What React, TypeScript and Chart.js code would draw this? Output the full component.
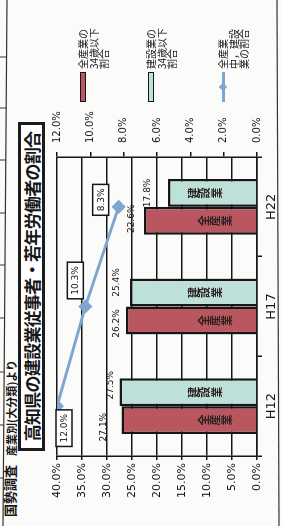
import React, { useEffect, useRef } from 'react';
import { Chart, registerables } from 'chart.js';

Chart.register(...registerables);

// ---- data ----
const categories = ['H12', 'H17', 'H22'];
const allIndustryYoungShare = [27.1, 26.2, 22.6]; // 全産業の34歳以下割合 (%)
const constructionYoungShare = [27.5, 25.4, 17.8]; // 建設業の34歳以下割合 (%)
const constructionShareOfAll = [12.0, 10.3, 8.3]; // 全産業中，建設業の割合 (%)
const barInnerTexts = ['全産業', '建設業'];
const leftAxisRange = [0, 40, 5];
const rightAxisRange = [0, 12, 2];

// ---- styles ----
const RED = '#b9565f';
const TEAL = '#bde0d8';
const BLUE = '#7ea6cf';
const INK = '#161616';
const W = 526;
const H = 283;
// label nudges (px) relative to the bar top / point
const barLabelNudge = [
  [[-7, -18], [-3, -9], [2, -12]],
  [[7, -9], [10, -13], [0, -20]],
];
const lineLabelNudge = [[-22, 7], [26, -10], [7, -18]];

const fmt = (v: number) => v.toFixed(1) + '%';

const labelsPlugin = {
  id: 'customLabels',
  afterDatasetsDraw(chart: any) {
    const ctx = chart.ctx;
    const area = chart.chartArea;
    ctx.save();
    // bar value labels and inner vertical texts
    [1, 2].forEach((di, k) => {
      const meta = chart.getDatasetMeta(di);
      const vals = chart.data.datasets[di].data as number[];
      meta.data.forEach((el: any, i: number) => {
        const [dx, dy] = barLabelNudge[k][i];
        ctx.font = '9px "DejaVu Sans"';
        ctx.fillStyle = INK;
        ctx.textAlign = 'center';
        ctx.textBaseline = 'middle';
        ctx.fillText(fmt(vals[i]), el.x + dx, el.y + dy);
        // vertical text inside bar
        ctx.font = 'bold 11px "Noto Sans CJK JP"';
        ctx.fillStyle = '#2a2222';
        const txt = barInnerTexts[k];
        const cy = area.bottom - (k === 0 ? 42 : 52);
        for (let c = 0; c < txt.length; c++) {
          ctx.fillText(txt[c], el.x, cy + (c - 1) * 11.5);
        }
      });
    });
    // boxed line labels
    const lmeta = chart.getDatasetMeta(0);
    const lvals = chart.data.datasets[0].data as number[];
    lmeta.data.forEach((el: any, i: number) => {
      const [dx, dy] = lineLabelNudge[i];
      const t = fmt(lvals[i]);
      ctx.font = '9px "DejaVu Sans"';
      const w = ctx.measureText(t).width + 8;
      const h = 16;
      const cx = el.x + dx;
      const cy = el.y + dy;
      ctx.fillStyle = '#ffffff';
      ctx.fillRect(cx - w / 2, cy - h / 2, w, h);
      ctx.strokeStyle = INK;
      ctx.lineWidth = 1.5;
      ctx.strokeRect(cx - w / 2, cy - h / 2, w, h);
      ctx.fillStyle = INK;
      ctx.textAlign = 'center';
      ctx.textBaseline = 'middle';
      ctx.fillText(t, cx, cy + 0.5);
    });
    ctx.restore();
  },
};

export default function App() {
  const ref = useRef<HTMLCanvasElement>(null);

  useEffect(() => {
    const chart = new Chart(ref.current as HTMLCanvasElement, {
      type: 'bar',
      data: {
        labels: categories,
        datasets: [
          {
            type: 'line',
            label: '全産業中，建設業の割合',
            data: constructionShareOfAll,
            yAxisID: 'y1',
            borderColor: BLUE,
            backgroundColor: BLUE,
            borderWidth: 3,
            pointStyle: 'rectRot',
            pointRadius: 5,
            pointBackgroundColor: BLUE,
            pointBorderColor: BLUE,
            order: 0,
          } as any,
          {
            type: 'bar',
            label: '全産業の34歳以下割合',
            data: allIndustryYoungShare,
            yAxisID: 'y',
            backgroundColor: RED,
            borderColor: INK,
            borderWidth: 2.5,
            categoryPercentage: 0.56,
            barPercentage: 1,
            order: 1,
          },
          {
            type: 'bar',
            label: '建設業の34歳以下割合',
            data: constructionYoungShare,
            yAxisID: 'y',
            backgroundColor: TEAL,
            borderColor: INK,
            borderWidth: 2.5,
            categoryPercentage: 0.56,
            barPercentage: 1,
            order: 1,
          },
        ],
      },
      options: {
        responsive: false,
        animation: false,
        devicePixelRatio: 1,
        layout: { padding: { top: 57, left: 0, right: 0, bottom: 0 } },
        plugins: { legend: { display: false }, tooltip: { enabled: false }, title: { display: false } },
        scales: {
          x: {
            offset: true,
            grid: { display: true, drawOnChartArea: false, drawTicks: true, tickLength: 5, color: INK, lineWidth: 1.5, offset: true },
            border: { display: true, color: INK, width: 1.5 },
            ticks: { font: { size: 13, family: 'DejaVu Sans' }, color: INK, padding: 2 },
            afterFit: (s: any) => { s.height = 26; },
          },
          y: {
            position: 'left',
            min: leftAxisRange[0],
            max: leftAxisRange[1],
            ticks: { stepSize: leftAxisRange[2], callback: (v: any) => fmt(Number(v)), font: { size: 11, family: 'DejaVu Sans' }, color: INK, padding: 3 },
            grid: { color: INK, lineWidth: 1.5, tickLength: 4 },
            border: { display: true, color: INK, width: 1.5 },
            afterFit: (s: any) => { s.width = 70; },
          },
          y1: {
            position: 'right',
            min: rightAxisRange[0],
            max: rightAxisRange[1],
            ticks: { stepSize: rightAxisRange[2], callback: (v: any) => fmt(Number(v)), font: { size: 10, family: 'DejaVu Sans' }, color: INK, padding: 9 },
            grid: { drawOnChartArea: false, color: INK, lineWidth: 1.5, tickLength: 5 },
            border: { display: true, color: INK, width: 1.5 },
            afterFit: (s: any) => { s.width = 157; },
          },
        },
      } as any,
      plugins: [labelsPlugin],
    });
    return () => chart.destroy();
  }, []);

  const frameTicks = [48, 101, 154, 208, 261, 313, 366, 418, 469];
  const legendText: React.CSSProperties = {
    position: 'absolute',
    left: 457,
    fontFamily: '"Noto Sans CJK JP"',
    fontSize: 10,
    lineHeight: '10.5px',
    color: INK,
    whiteSpace: 'pre',
  };

  return (
    <div style={{ position: 'fixed', left: 0, top: 0, width: 283, height: 526, overflow: 'hidden', background: '#fbfbf9' }}>
      <div
        style={{
          position: 'absolute',
          left: 0,
          top: 0,
          width: W,
          height: H,
          transformOrigin: '0 0',
          transform: 'translate(0px, 526px) rotate(-90deg)',
        }}
      >
        <svg width={W} height={H} style={{ position: 'absolute', left: 0, top: 0 }}>
          <line x1={0} y1={3} x2={W} y2={7} stroke="#333" strokeWidth={1.2} />
          <line x1={0} y1={279} x2={W} y2={277} stroke="#333" strokeWidth={1.2} />
          {frameTicks.map((x) => (
            <line key={x} x1={x} y1={0} x2={x} y2={3 + (x / W) * 4} stroke="#333" strokeWidth={1} />
          ))}
        </svg>
        <div style={{ position: 'absolute', left: 9, top: 2, fontFamily: '"Noto Sans CJK JP"', fontSize: 13, fontWeight: 700, color: INK, whiteSpace: 'nowrap', lineHeight: '16px' }}>
          国勢調査
        </div>
        <div style={{ position: 'absolute', left: 70, top: 4, fontFamily: '"Noto Sans CJK JP"', fontSize: 11, fontWeight: 700, color: INK, whiteSpace: 'nowrap', lineHeight: '14px' }}>
          産業別(大分類)より
        </div>
        <div
          style={{
            position: 'absolute',
            left: 75,
            top: 18,
            width: 329,
            height: 27,
            boxSizing: 'border-box',
            border: '3px solid #1c1c1c',
            background: '#ffffff',
            fontFamily: '"Noto Sans CJK JP"',
            fontWeight: 700,
            fontSize: 17,
            letterSpacing: '-0.7px',
            lineHeight: '21px',
            textAlign: 'center',
            color: INK,
            whiteSpace: 'nowrap',
          }}
        >
          高知県の建設業従事者・若年労働者の割合
        </div>
        <div style={{ position: 'absolute', left: 0, top: 0, width: W, height: H }}>
          <canvas ref={ref} width={W} height={H} style={{ display: 'block' }} />
        </div>
        {/* legend */}
        <div style={{ position: 'absolute', left: 424, top: 80, width: 30, height: 6, background: RED, border: '1.5px solid ' + INK, boxSizing: 'border-box' }} />
        <div style={{ ...legendText, top: 78 }}>{'全産業の\n34歳以下\n割合'}</div>
        <div style={{ position: 'absolute', left: 424, top: 148, width: 30, height: 6, background: TEAL, border: '1.5px solid ' + INK, boxSizing: 'border-box' }} />
        <div style={{ ...legendText, top: 146 }}>{'建設業の\n34歳以下\n割合'}</div>
        <div style={{ position: 'absolute', left: 424, top: 222, width: 30, height: 3, background: BLUE }} />
        <div style={{ position: 'absolute', left: 435.5, top: 220, width: 6, height: 6, background: BLUE, transform: 'rotate(45deg)' }} />
        <div style={{ ...legendText, top: 218 }}>{'全産業\n中，建設\n業の割合'}</div>
      </div>
    </div>
  );
}
